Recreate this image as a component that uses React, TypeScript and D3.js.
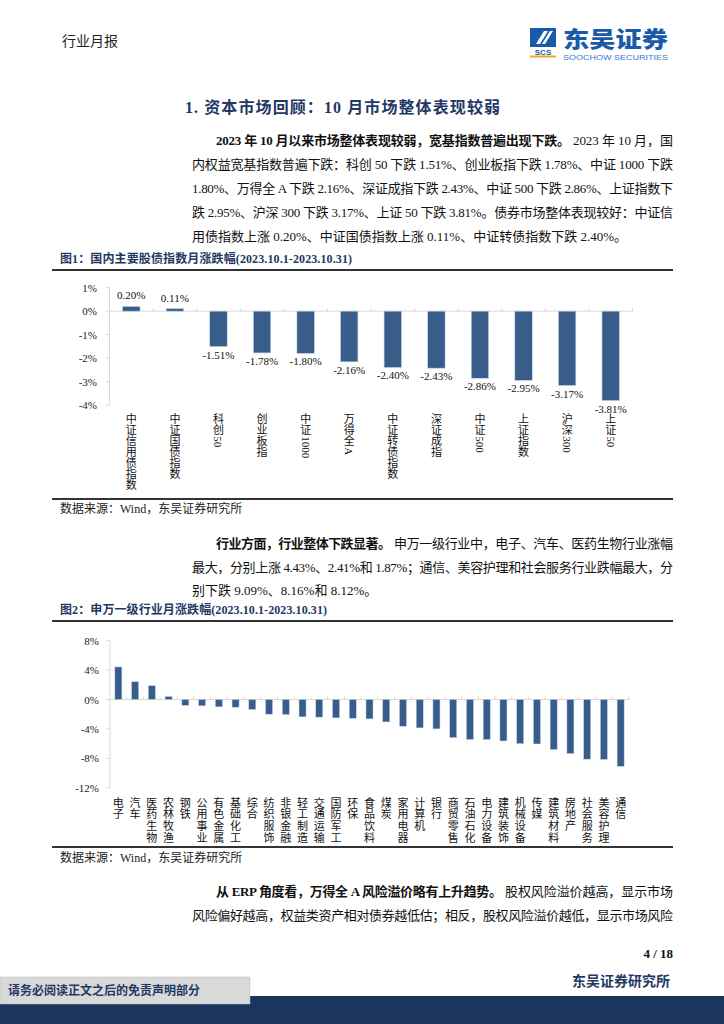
import React from "react";
import * as d3 from "d3";

// ---------- data ----------
const idxCats = ["中证信用债指数", "中证国债指数", "科创50", "创业板指", "中证1000", "万得全A", "中证转债指数", "深证成指", "中证500", "上证指数", "沪深300", "上证50"];
const idxVals = [0.2, 0.11, -1.51, -1.78, -1.8, -2.16, -2.4, -2.43, -2.86, -2.95, -3.17, -3.81];
const idxTicks = [1, 0, -1, -2, -3, -4];

const indCats = ["电子", "汽车", "医药生物", "农林牧渔", "钢铁", "公用事业", "有色金属", "基础化工", "综合", "纺织服饰", "非银金融", "轻工制造", "交通运输", "国防军工", "环保", "食品饮料", "煤炭", "家用电器", "计算机", "银行", "商贸零售", "石油石化", "电力设备", "建筑装饰", "机械设备", "传媒", "建筑材料", "房地产", "社会服务", "美容护理", "通信"];
const indVals = [4.43, 2.41, 1.87, 0.41, -0.8, -0.86, -1.0, -1.05, -1.36, -2.0, -2.05, -2.36, -2.4, -2.5, -2.55, -2.64, -3.05, -3.64, -3.86, -4.0, -5.18, -5.45, -5.45, -5.64, -6.0, -6.05, -6.82, -7.36, -8.12, -8.16, -9.09];
const indTicks = [8, 4, 0, -4, -8, -12];

const SERIF = "'Liberation Serif', 'Noto Sans CJK SC', serif";
const NAVY = "#1f3864";
const BAR = "#385d8a";
const AXIS = "#d9d9d9";

function Line({ x, y, x2, text, bold, color }: any) {
  return (
    <text
      x={x}
      y={y}
      fontSize={13}
      fontFamily={SERIF}
      fontWeight={bold ? 700 : 400}
      fill={color || "#111"}
      {...(x2 ? { textLength: x2 - x, lengthAdjust: "spacing" } : {})}
    >
      {text}
    </text>
  );
}

function VLabel({ x, top, text, fs, adv }: any) {
  const tokens: string[] = [];
  let buf = "";
  for (const ch of text) {
    if (/[A-Za-z0-9.]/.test(ch)) buf += ch;
    else {
      if (buf) { tokens.push(buf); buf = ""; }
      tokens.push(ch);
    }
  }
  if (buf) tokens.push(buf);
  let y = top;
  const out: any[] = [];
  tokens.forEach((t, i) => {
    if (/^[A-Za-z0-9.]+$/.test(t)) {
      const w = t.split("").reduce((s, c) => s + (c === "A" ? 0.72 : 0.5) * fs, 0);
      out.push(
        <text key={i} transform={`translate(${x},${y + 1}) rotate(90)`} fontSize={fs} fontFamily={SERIF} dominantBaseline="central" fill="#111">
          {t}
        </text>
      );
      y += w + 2;
    } else {
      out.push(
        <text key={i} x={x} y={y + adv / 2} fontSize={fs} fontFamily={SERIF} textAnchor="middle" dominantBaseline="central" fill="#111">
          {t}
        </text>
      );
      y += adv;
    }
  });
  return <g>{out}</g>;
}

function Chart1() {
  const x = d3.scaleBand<string>().domain(idxCats).range([109.5, 632.5]).paddingInner(0.6).paddingOuter(0.3);
  const y = d3.scaleLinear().domain([-4, 1]).range([405, 287.7]);
  const step = x.step();
  return (
    <g>
      <line x1={109.5} x2={109.5} y1={y(1)} y2={y(-4)} stroke={AXIS} />
      {idxTicks.map((t) => (
        <g key={t}>
          <line x1={105.5} x2={109.5} y1={y(t)} y2={y(t)} stroke={AXIS} />
          <text x={97} y={y(t)} textAnchor="end" dominantBaseline="central" fontSize={11} fontFamily={SERIF} fill="#222">
            {t}%
          </text>
        </g>
      ))}
      <line x1={109.5} x2={632.5} y1={y(0)} y2={y(0)} stroke={AXIS} />
      {idxCats.map((c, i) => (
        <line key={"t" + i} x1={109.5 + step * (i + 1)} x2={109.5 + step * (i + 1)} y1={y(0) - 3} y2={y(0)} stroke={AXIS} />
      ))}
      {idxCats.map((c, i) => {
        const v = idxVals[i];
        const y0 = y(Math.max(0, v));
        const y1 = y(Math.min(0, v));
        const cx = (x(c) as number) + x.bandwidth() / 2;
        return (
          <g key={c}>
            <rect x={x(c)} y={y0} width={x.bandwidth()} height={y1 - y0} fill={BAR} stroke="#c5d3e6" strokeWidth={0.6} />
            <text x={cx} y={v >= 0 ? y0 - 11 : y1 + 8} textAnchor="middle" dominantBaseline="central" fontSize={11} fontFamily={SERIF} fill="#111">
              {v.toFixed(2)}%
            </text>
            <VLabel x={cx} top={413} text={c} fs={11} adv={11.1} />
          </g>
        );
      })}
    </g>
  );
}

function Chart2() {
  const x = d3.scaleBand<string>().domain(indCats).range([110, 629]).paddingInner(0.58).paddingOuter(0.29);
  const y = d3.scaleLinear().domain([-12, 8]).range([787.7, 640.7]);
  const step = x.step();
  return (
    <g>
      <line x1={110} x2={110} y1={y(8)} y2={y(-12)} stroke={AXIS} />
      {indTicks.map((t) => (
        <g key={t}>
          <line x1={106} x2={110} y1={y(t)} y2={y(t)} stroke={AXIS} />
          <text x={99} y={y(t)} textAnchor="end" dominantBaseline="central" fontSize={11} fontFamily={SERIF} fill="#222">
            {t}%
          </text>
        </g>
      ))}
      <line x1={110} x2={629} y1={y(0)} y2={y(0)} stroke={AXIS} />
      {indCats.map((c, i) => (
        <line key={"t" + i} x1={110 + step * (i + 1)} x2={110 + step * (i + 1)} y1={y(0) - 3} y2={y(0)} stroke={AXIS} />
      ))}
      {indCats.map((c, i) => {
        const v = indVals[i];
        const y0 = y(Math.max(0, v));
        const y1 = y(Math.min(0, v));
        const cx = (x(c) as number) + x.bandwidth() / 2;
        return (
          <g key={c}>
            <rect x={x(c)} y={y0} width={x.bandwidth()} height={y1 - y0} fill={BAR} stroke="#c5d3e6" strokeWidth={0.5} />
            <VLabel x={cx} top={797} text={c} fs={11} adv={11.6} />
          </g>
        );
      })}
    </g>
  );
}

export default function App() {
  return (
    <svg width={724} height={1024} style={{ position: "absolute", left: 0, top: 0, background: "#fff" }} fontFamily={SERIF}>
      <rect width={724} height={1024} fill="#fff" />
      {/* header */}
      <text x={62} y={46} fontSize={14} fill="#222">行业月报</text>
      <g>
        <rect x={530} y={28} width={26} height={19} fill="#1a5aa8" />
        <path d="M536,44 L544,31 L548,31 L540,44 Z" fill="#fff" />
        <path d="M542,44 L550,31 L553,31 L545,44 Z" fill="#fff" />
        <text x={543} y={54.5} textAnchor="middle" fontSize={8} fontWeight={900} fill="#1a5aa8" fontFamily="'Liberation Sans', sans-serif">SCS</text>
        <rect x={530} y={55.5} width={26} height={2} fill="#f5a623" />
        <text x={563} y={47} fontSize={22} fontWeight={900} fill="#1a5aa8" fontFamily="'Noto Sans CJK SC', sans-serif" textLength={105} lengthAdjust="spacingAndGlyphs">东吴证券</text>
        <text x={563} y={60} fontSize={7} fill="#3a7bc8" fontFamily="'Liberation Sans', sans-serif" textLength={105} lengthAdjust="spacingAndGlyphs">SOOCHOW SECURITIES</text>
      </g>

      {/* section title */}
      <text x={185} y={113} fontSize={16} fontWeight={700} fill={NAVY} textLength={315} lengthAdjust="spacing">1.  资本市场回顾：10 月市场整体表现较弱</text>

      {/* paragraph 1 */}
      <Line x={216} x2={570} y={145} bold text="2023 年 10 月以来市场整体表现较弱，宽基指数普遍出现下跌。" />
      <Line x={573} x2={673} y={145} text="2023 年 10 月，国" />
      <Line x={192} x2={673} y={169} text="内权益宽基指数普遍下跌：科创 50 下跌 1.51%、创业板指下跌 1.78%、中证 1000 下跌" />
      <Line x={192} x2={673} y={193} text="1.80%、万得全 A 下跌 2.16%、深证成指下跌 2.43%、中证 500 下跌 2.86%、上证指数下" />
      <Line x={192} x2={673} y={217} text="跌 2.95%、沪深 300 下跌 3.17%、上证 50 下跌 3.81%。债券市场整体表现较好：中证信" />
      <Line x={192} y={241} text="用债指数上涨 0.20%、中证国债指数上涨 0.11%、中证转债指数下跌 2.40%。" />

      {/* figure 1 */}
      <text x={60} y={263} fontSize={12} fontWeight={700} fill={NAVY} textLength={292} lengthAdjust="spacing">图1：国内主要股债指数月涨跌幅(2023.10.1-2023.10.31)</text>
      <line x1={52} x2={673} y1={270} y2={270} stroke="#333" strokeWidth={2} />
      <Chart1 />
      <line x1={52} x2={673} y1={499} y2={499} stroke="#333" strokeWidth={2} />
      <text x={60} y={513} fontSize={12} fill="#222">数据来源：Wind，东吴证券研究所</text>

      {/* paragraph 2 */}
      <Line x={216} x2={391} y={548} bold text="行业方面，行业整体下跌显著。" />
      <Line x={394} x2={673} y={548} text="申万一级行业中，电子、汽车、医药生物行业涨幅" />
      <Line x={192} x2={673} y={572} text="最大，分别上涨 4.43%、2.41%和 1.87%；通信、美容护理和社会服务行业跌幅最大，分" />
      <Line x={192} y={595} text="别下跌 9.09%、8.16%和 8.12%。" />

      {/* figure 2 */}
      <text x={60} y={614} fontSize={12} fontWeight={700} fill={NAVY} textLength={267} lengthAdjust="spacing">图2：申万一级行业月涨跌幅(2023.10.1-2023.10.31)</text>
      <line x1={52} x2={673} y1={621} y2={621} stroke="#333" strokeWidth={2} />
      <Chart2 />
      <line x1={52} x2={673} y1={847} y2={847} stroke="#333" strokeWidth={2} />
      <text x={60} y={862} fontSize={12} fill="#222">数据来源：Wind，东吴证券研究所</text>

      {/* paragraph 3 */}
      <Line x={216} x2={502} y={896} bold text="从 ERP 角度看，万得全 A 风险溢价略有上升趋势。" />
      <Line x={505} x2={673} y={896} text="股权风险溢价越高，显示市场" />
      <Line x={192} x2={673} y={920} text="风险偏好越高，权益类资产相对债券越低估；相反，股权风险溢价越低，显示市场风险" />

      {/* footer */}
      <text x={673} y={958} textAnchor="end" fontSize={13} fontWeight={700} fill="#111">4 / 18</text>
      <text x={670} y={986} textAnchor="end" fontSize={14} fontWeight={700} fill={NAVY}>东吴证券研究所</text>
      <rect x={0} y={996} width={724} height={28} fill="#1b365d" />
      <rect x={0} y={977} width={250} height={27} fill="#d9d9d9" stroke="#bfbfbf" strokeWidth={0.5} />
      <text x={8} y={995} fontSize={12} fontWeight={700} fill={NAVY}>请务必阅读正文之后的免责声明部分</text>
    </svg>
  );
}
